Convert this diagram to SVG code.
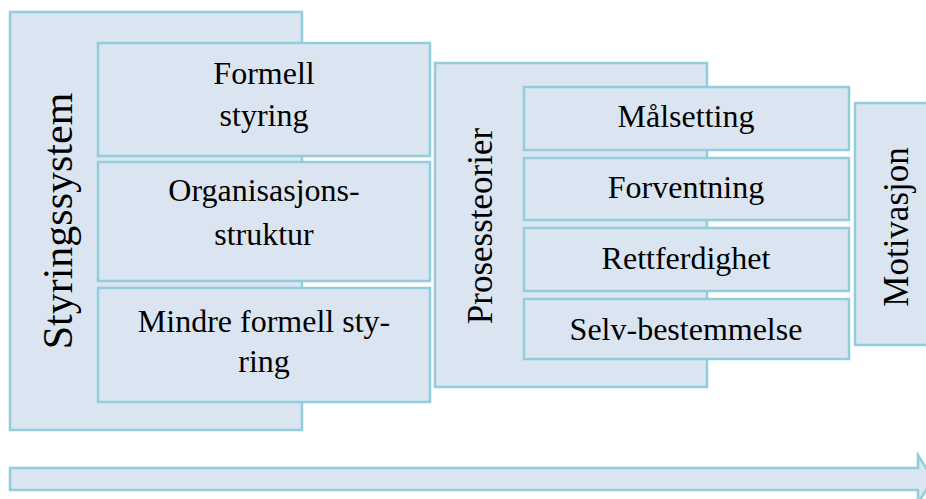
<svg xmlns="http://www.w3.org/2000/svg" width="926" height="499" viewBox="0 0 926 499">
<style>
.b{fill:#DBE5F1;stroke:#92CDDC;stroke-width:2.5}
.t{font-family:"Liberation Serif","Times New Roman",serif;fill:#000;text-anchor:middle}
.s{font-size:32px}
</style>
<rect width="926" height="499" fill="#fff"/>
<g id="styringssystem">
<rect class="b" x="10" y="12" width="292" height="418"/>
<text class="t" font-size="42" transform="translate(72,221) rotate(-90)">Styringssystem</text>
</g>
<g id="formell">
<rect class="b" x="98" y="43" width="332" height="113"/>
<text class="t s" x="264" y="84">Formell</text>
<text class="t s" x="264" y="126">styring</text>
</g>
<g id="organisasjon">
<rect class="b" x="98" y="162" width="332" height="119"/>
<text class="t s" x="264" y="201">Organisasjons-</text>
<text class="t s" x="264" y="245">struktur</text>
</g>
<g id="mindre">
<rect class="b" x="98" y="288" width="332" height="114"/>
<text class="t s" x="264" y="332">Mindre formell sty-</text>
<text class="t s" x="264" y="372">ring</text>
</g>
<g id="prosessteorier">
<rect class="b" x="435" y="63" width="272" height="324"/>
<text class="t" font-size="35" transform="translate(492,226) rotate(-90)">Prosessteorier</text>
</g>
<g id="malsetting">
<rect class="b" x="524" y="87" width="325" height="63"/>
<text class="t s" x="686" y="127">Målsetting</text>
</g>
<g id="forventning">
<rect class="b" x="524" y="158" width="325" height="62"/>
<text class="t s" x="686" y="198">Forventning</text>
</g>
<g id="rettferdighet">
<rect class="b" x="524" y="228" width="325" height="63"/>
<text class="t s" x="686" y="269">Rettferdighet</text>
</g>
<g id="selvbestemmelse">
<rect class="b" x="524" y="299" width="325" height="60"/>
<text class="t s" x="686" y="340">Selv-bestemmelse</text>
</g>
<g id="motivasjon">
<rect class="b" x="855" y="103" width="90" height="242"/>
<text class="t" font-size="35" transform="translate(908,227) rotate(-90)">Motivasjon</text>
</g>
<g id="connectors">
<polygon class="b" points="10,468 918,468 918,455 933,479 918,503 918,490 10,490"/>
</g>
</svg>
